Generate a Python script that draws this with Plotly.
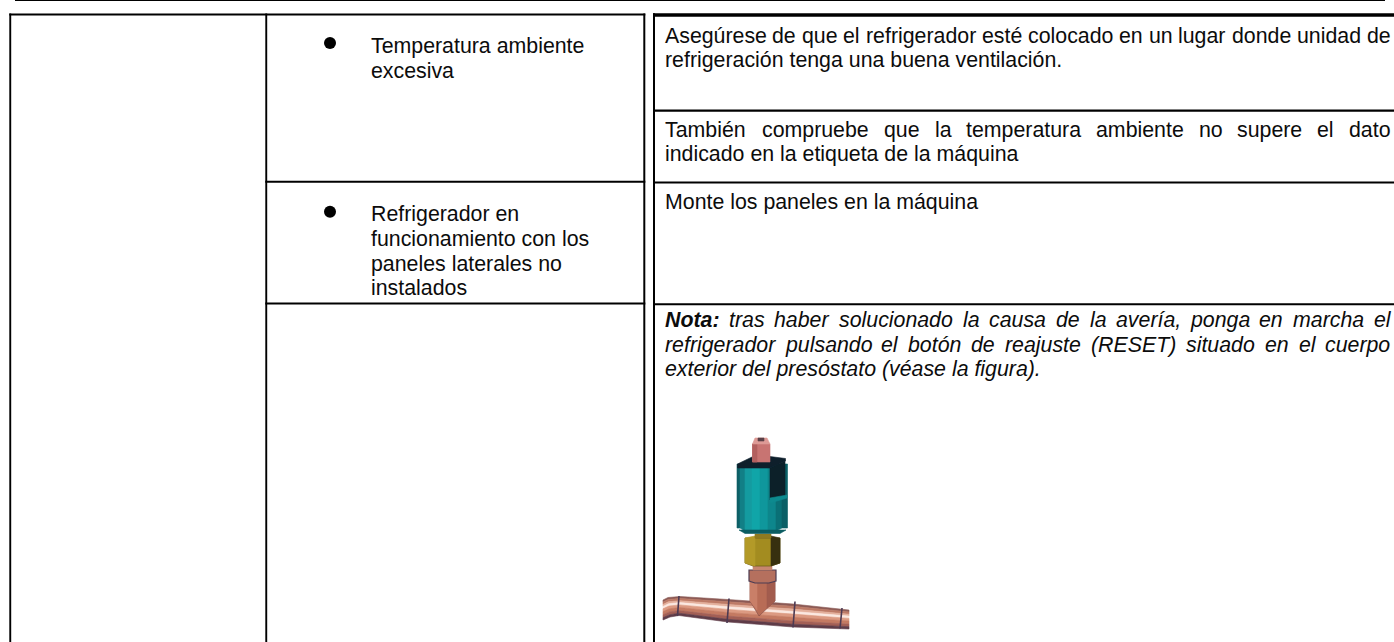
import plotly.graph_objects as go

# ---- content -------------------------------------------------------------
BULLET_ITEMS = [["Temperatura ambiente", "excesiva"],
                ["Refrigerador en", "funcionamiento con los", "paneles laterales no", "instalados"]]
REMEDY_1 = ["Asegúrese de que el refrigerador esté colocado en un lugar donde unidad de",
            "refrigeración tenga una buena ventilación."]
REMEDY_2 = ["También compruebe que la temperatura ambiente no supere el dato",
            "indicado en la etiqueta de la máquina"]
REMEDY_3 = ["Monte los paneles en la máquina"]
NOTE_HEAD = "Nota:"
NOTE = ["tras haber solucionado la causa de la avería, ponga en marcha el",
        "refrigerador pulsando el botón de reajuste (RESET) situado en el cuerpo",
        "exterior del presóstato (véase la figura)."]

# ---- layout constants ----------------------------------------------------
W, H = 1394, 642
FS = 21.33
FONT = "Liberation Sans, Arial, sans-serif"
INK = "#0c0c0c"
TXT_L, TXT_R = 664.5, 1390.5
BASE_SHIFT = -7   # centre of text box relative to baseline

AFM = dict(zip("abcdefghijklmnopqrstuvwxyz",
               [556,556,500,556,556,278,556,556,222,222,500,222,833,556,556,556,556,333,500,278,556,500,722,500,500,500]))
AFM.update({"á":556,"é":556,"í":222,"ó":556,"ú":556,"ñ":556,",":278,".":278,"(":333,")":333,
            "A":667,"T":611,"R":722,"E":667,"S":667,"M":833,"N":722,":":278})
AFM_B = {"N":722,"o":611,"t":333,"a":556,":":333}

def wid(s, bold=False):
    t = AFM_B if bold else AFM
    return sum(t[c] for c in s) * FS / 1000

anns = []
def put(x, base, s, bold=False, italic=False):
    if bold: s = f"<b>{s}</b>"
    if italic: s = f"<i>{s}</i>"
    anns.append(dict(x=x, y=base + BASE_SHIFT, text=s, xref="x", yref="y", showarrow=False,
                     xanchor="left", yanchor="middle", align="left",
                     borderpad=0, borderwidth=0,
                     font=dict(family=FONT, size=FS, color=INK)))

def justified(x0, x1, base, words, italic=False, first_bold=False):
    ws = [wid(w, first_bold and i == 0) for i, w in enumerate(words)]
    gap = (x1 - x0 - sum(ws)) / (len(words) - 1)
    x = x0
    for i, w in enumerate(words):
        b = first_bold and i == 0
        put(x, base, w, bold=b, italic=italic)
        x += ws[i] + gap

# left column items
for base, line in zip([52.8, 77.5], BULLET_ITEMS[0]):
    put(371, base, line)
for base, line in zip([221, 245.5, 270.5, 295], BULLET_ITEMS[1]):
    put(371, base, line)
# remedies
justified(TXT_L, TXT_R, 42.7, REMEDY_1[0].split())
put(TXT_L, 66.7, REMEDY_1[1])
justified(TXT_L, TXT_R, 136.7, REMEDY_2[0].split())
put(TXT_L, 160.7, REMEDY_2[1])
put(TXT_L, 209, REMEDY_3[0])
justified(TXT_L, TXT_R, 327, [NOTE_HEAD] + NOTE[0].split(), italic=True, first_bold=True)
justified(TXT_L, TXT_R, 351.5, NOTE[1].split(), italic=True)
put(TXT_L, 376, NOTE[2], italic=True)

# ---- table rules ---------------------------------------------------------
RULES = [  # x0, x1, y0, y1
    (15, 1385, 0, 1),
    (9.3, 645.3, 13.4, 15.4),
    (653, 1394, 13.2, 16.8),
    (9.3, 11.2, 13.4, 642),
    (265.3, 267.2, 13.4, 642),
    (643.3, 645.3, 13.4, 642),
    (653, 655, 13.2, 642),
    (265.3, 645.3, 180.8, 182.8),
    (265.3, 645.3, 302.6, 304.6),
    (655, 1394, 109.6, 111.8),
    (655, 1394, 181.6, 183.6),
    (655, 1394, 303.2, 305.2),
]
shapes = [dict(type="rect", x0=a, x1=b, y0=c, y1=d, fillcolor="#000", line_width=0, layer="above")
          for a, b, c, d in RULES]

def poly(pts, fill, line=None, lw=0.6):
    p = "M" + "L".join(f"{x:.1f},{y:.1f}" for x, y in pts) + "Z"
    shapes.append(dict(type="path", path=p, fillcolor=fill, layer="above",
                       line=dict(color=line or fill, width=lw)))

def lerp(a, b, t):
    return a + (b - a) * t

# ---- pressure switch illustration ----------------------------------------
# pipe
PIPE_TOP = [(663,600),(668,597.5),(680,596.5),(728,599.5),(793,604),(849,610)]
PIPE_BOT = [(663,620),(670,617),(679,615.5),(728,622),(793,627),(849,629)]
PIPE_BANDS = [(0,.1,"#8c5a55"),(.1,.22,"#bd7a66"),(.22,.32,"#e4b09c"),(.32,.44,"#fbe8e0"),
              (.44,.58,"#dc9a82"),(.58,.74,"#c47a62"),(.74,.88,"#a35f55"),(.88,1,"#5f3c48")]
for t0, t1, c in PIPE_BANDS:
    up = [(lerp(a[0],b[0],t0), lerp(a[1],b[1],t0)) for a,b in zip(PIPE_TOP,PIPE_BOT)]
    dn = [(lerp(a[0],b[0],t1), lerp(a[1],b[1],t1)) for a,b in zip(PIPE_TOP,PIPE_BOT)]
    poly(up + dn[::-1], c)
# pipe collars
for (x0,y0,x1,y1) in [(679,596,677.5,616),(729,598.5,727,623),(795,601.5,793,627.5),(842,608,840,628.5)]:
    shapes.append(dict(type="line", x0=x0, x1=x1, y0=y0, y1=y1, layer="above",
                       line=dict(color="#4c3a52", width=1.6)))
# cone
CONE = [(750,582),(775,582),(775,601),(759,616),(750,601)]
poly(CONE, "#b86c56", "#7d4a46", 0.6)
poly([(750,582),(757,582),(757,610),(750,601)], "#c97f68")
poly([(767,582),(775,582),(775,601),(767,608)], "#a25c4e")
# small nut
poly([(749,570),(776,570),(776,581),(769,583),(755,583),(749,581)], "#b5705e", "#4d3c52", 1.2)
poly([(753,566),(772,566),(772,570),(753,570)], "#c7866f")
# brass hex
poly([(745,538),(780,538),(780,563),(771,566),(753,566),(745,563)], "#a38c20", "#6f601a", 0.8)
poly([(745,538),(755,536),(755,566),(745,563)], "#b39a28")
poly([(771,536),(780,538),(780,563),(771,566)], "#37300f")
poly([(755,534),(771,534),(771,538),(755,538)], "#8f7a20")
# teal body gradient
BODY_BANDS = [(737,740,"#0e5f66"),(740,745,"#127f86"),(745,752,"#149ba0"),(752,760,"#10a5a8"),
              (760,768,"#0f979c"),(768,776,"#0d868c"),(776,782,"#0a7076"),(782,787.5,"#0a5f66")]
for x0, x1, c in BODY_BANDS:
    poly([(x0,464),(x1,464),(x1,528),(x1,531 if 742<x1<782 else 528),(x0,531 if 742<x0<782 else 528)], c)
poly([(739,530),(786,530),(780,533.5),(745,533.5)], "#0b5d62")
# dark top and notch
poly([(770,468),(785,461),(785,497),(770,500)], "#0c2029")
poly([(770,498),(787,495),(787,498),(770,503)], "#0d8a8f")
poly([(737.5,464),(752,457),(770,456.5),(785.5,458.5),(785.5,461),(770,468),(737.5,468)], "#0e1f2b")
# pin
poly([(752.5,444),(770,444),(770,462),(752.5,462)], "#c87472")
poly([(752.5,444),(757,444),(757,462),(752.5,462)], "#b2605f")
poly([(755,438),(767,438),(770,444),(752.5,444)], "#dd9a96")
poly([(758,438),(764,438),(764,441),(758,441)], "#5a4048")

# ---- figure --------------------------------------------------------------
fig = go.Figure()
fig.add_trace(go.Scatter(x=[330, 330], y=[43, 211.7], mode="markers", hoverinfo="skip",
                         marker=dict(color="#000", size=12, line_width=0)))
fig.update_layout(width=W, height=H, margin=dict(l=0, r=0, t=0, b=0), paper_bgcolor="#fff",
                  plot_bgcolor="#fff", showlegend=False, shapes=shapes, annotations=anns,
                  xaxis=dict(range=[0, W], visible=False, fixedrange=True),
                  yaxis=dict(range=[H, 0], visible=False, fixedrange=True))
fig.write_html("out.html", config={"displayModeBar": False},
               post_script="document.body.style.margin='0';document.documentElement.style.overflow='hidden';")
